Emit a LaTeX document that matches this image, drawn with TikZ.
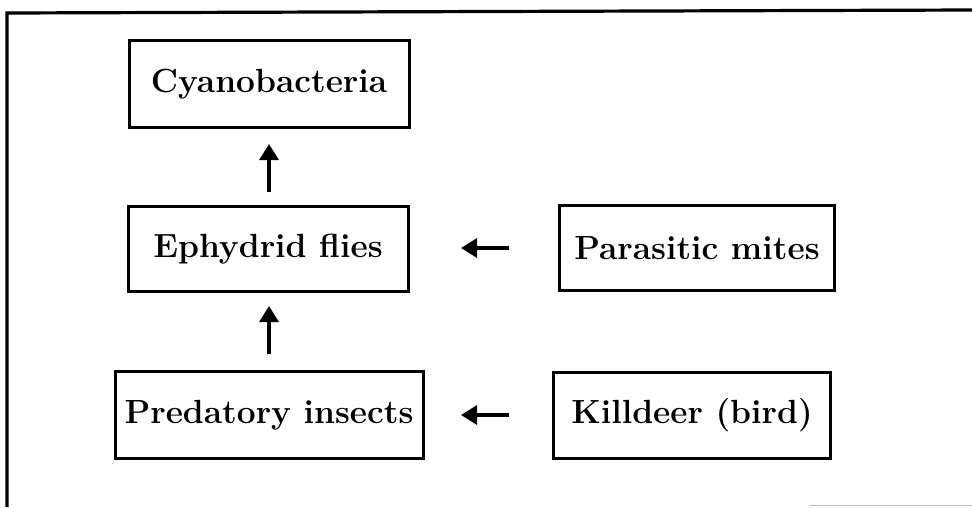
\documentclass[tikz,border=0pt]{standalone}
\usetikzlibrary{arrows.meta}
\begin{document}
\begin{tikzpicture}[x=1pt,y=-1pt,
  box/.style={draw=black,line width=3pt,inner sep=0pt,font=\fontsize{33.5}{38}\selectfont\bfseries},
  arr/.style={line width=3.2pt,-{Triangle[length=16pt,width=19pt]}}]
\useasboundingbox (0,0) rectangle (972,507);
\draw[line width=3.2pt] (7,507) -- (7,13) -- (972,10);
\draw[line width=1pt,black!25] (810,505) -- (972,505);
\node[box,minimum width=280pt,minimum height=87pt] (cyano) at (269,84) {Cyanobacteria};
\node[box,minimum width=280pt,minimum height=85pt] (eph) at (268,249) {Ephydrid flies};
\node[box,minimum width=275pt,minimum height=85pt] (mites) at (697,248) {Parasitic mites};
\node[box,minimum width=308pt,minimum height=87pt] (pred) at (269,415) {Predatory insects};
\node[box,minimum width=277pt,minimum height=86pt] (kill) at (692,415) {Killdeer (bird)};
\coordinate (a1s) at (269,192); \coordinate (a1e) at (269,144);
\coordinate (a2s) at (269,354); \coordinate (a2e) at (269,306);
\coordinate (a3s) at (509,248); \coordinate (a3e) at (461,248);
\coordinate (a4s) at (509,415); \coordinate (a4e) at (461,415);
\draw[arr] (a1s) -- (a1e);
\draw[arr] (a2s) -- (a2e);
\draw[arr] (a3s) -- (a3e);
\draw[arr] (a4s) -- (a4e);
\end{tikzpicture}
\end{document}
